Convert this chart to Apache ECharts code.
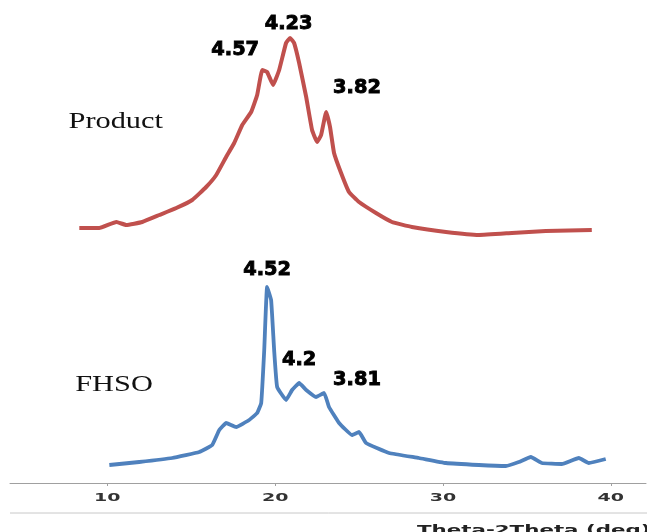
<!DOCTYPE html>
<html><head><meta charset="utf-8">
<script src="https://cdn.jsdelivr.net/npm/echarts@6/dist/echarts.min.js"></script>
<style>html,body{margin:0;padding:0;background:#fff}#c{width:647px;height:532px}</style>
</head><body><div id="c"></div>
<script>
const xTicks = [10, 20, 30, 40];
const productTheta = [8.33,9.52,10.54,11.13,12.08,13.10,14.11,15.06,15.89,16.49,17.08,17.56,18.04,18.57,18.93,19.23,19.52,19.88,20.24,20.65,20.89,21.13,21.43,21.85,22.20,22.50,22.74,23.04,23.27,23.51,23.93,24.40,25.00,26.01,26.96,28.15,30.18,32.14,34.11,36.13,38.87];
const productIntensity = [257,257,263,260,263,270,277,285,298,310,328,342,360,373,390,415,413,400,415,442,447,442,422,388,355,343,350,373,358,332,312,293,283,272,263,258,253,250,252,254,255];
const fhsoTheta = [10.12,11.90,13.87,15.48,16.25,16.67,17.08,17.68,18.45,18.93,19.17,19.35,19.52,19.76,19.94,20.12,20.65,21.01,21.43,21.85,22.44,22.92,23.21,23.81,24.58,25.00,25.42,26.79,28.57,30.18,32.14,33.75,34.52,35.24,35.89,37.08,38.10,38.69,39.70];
const fhsoIntensity = [20,23,27,33,40,55,62,58,65,72,82,135,198,185,135,98,85,95,102,95,88,92,78,62,50,53,42,32,27,22,20,19,23,28,22,21,27,22,26];
const peakText = ['4.57','4.23','3.82','4.52','4.2','3.81'];
const peakTheta = [17.62,20.80,24.88,19.52,21.43,24.88];
const peakY = [435,461,397,215,125,105];
const sampleNames = ['Product','FHSO'];
const sampleTheta = [10.5,10.4];
const sampleY = [363,100];
const axisTitle = 'Theta-2Theta (deg)';

const zip = (a,b) => a.map((v,i)=>[v,b[i]]);
const chart = echarts.init(document.getElementById('c'));
chart.setOption({
  animation:false,
  grid:{left:10,right:1,top:0,bottom:49},
  xAxis:{type:'value',min:4.2,max:42.1,
    axisLine:{show:true,lineStyle:{color:'#a0a0a0',width:1}},
    axisTick:{show:true,customValues:xTicks,length:3,lineStyle:{color:'#a0a0a0'}},
    axisLabel:{show:false},
    splitLine:{show:false}},
  yAxis:{type:'value',min:2,max:485,show:false},
  series:[
    {type:'line',data:zip(productTheta,productIntensity),showSymbol:false,smooth:0.1,
      lineStyle:{color:'#C0504D',width:4,join:'round'}},
    {type:'line',data:zip(fhsoTheta,fhsoIntensity),showSymbol:false,smooth:0.1,
      lineStyle:{color:'#4F81BD',width:3.8,join:'round'}}
  ]
});

const toPx = (x,y) => chart.convertToPixel({gridIndex:0},[x,y]);
const txt = (p, text, opt) => ({type:'text', x:p[0], y:p[1], scaleX:opt.sx||1, z:10,
  style:Object.assign({text:text, textAlign:'center', align:'center', textVerticalAlign:'middle', verticalAlign:'middle'}, opt.style)});
const els = [];
const axisY = toPx(10,2)[1];
xTicks.forEach(t => {
  const p = toPx(t,2);
  els.push(txt([p[0], axisY+15], String(t), {sx:1.9, style:{fontFamily:'DejaVu Sans', fontWeight:'bold', fontSize:10, fill:'#333'}}));
});
peakText.forEach((t,i) => {
  els.push(txt(toPx(peakTheta[i], peakY[i]), t, {sx:1.02, style:{fontFamily:'DejaVu Sans', fontWeight:'bold', fontSize:19, fill:'#000', stroke:'#000', lineWidth:0.9}}));
});
sampleNames.forEach((t,i) => {
  els.push(txt(toPx(sampleTheta[i], sampleY[i]), t, {sx:1.32, style:{fontFamily:'Liberation Serif', fontSize:23, fill:'#111'}}));
});
els.push({type:'line', shape:{x1:10, y1:axisY+30, x2:647, y2:axisY+30}, style:{stroke:'#c8c8c8', lineWidth:1}});
els.push({type:'text', x:417, y:axisY+42, scaleX:1.78, z:10,
  style:{text:axisTitle, fontFamily:'DejaVu Sans', fontWeight:'bold', fontSize:12, fill:'#222', textAlign:'left', align:'left', textVerticalAlign:'top', verticalAlign:'top'}});
chart.setOption({graphic:els});
</script></body></html>
